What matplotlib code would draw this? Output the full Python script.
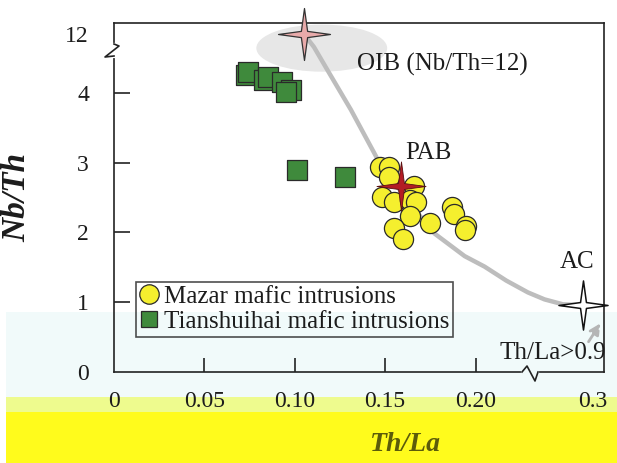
import numpy as np
import matplotlib.pyplot as plt
from matplotlib.patches import Rectangle, Ellipse
from matplotlib.lines import Line2D
from matplotlib.path import Path
from matplotlib.transforms import ScaledTranslation

plt.rcParams['font.family'] = ['Liberation Serif', 'DejaVu Serif']

# Mazar mafic intrusions (Th/La, Nb/Th)
mazar_thla = [0.147, 0.152, 0.152, 0.166, 0.148, 0.155, 0.164, 0.167,
              0.164, 0.155, 0.160, 0.175, 0.187, 0.188, 0.195, 0.194]
mazar_nbth = [2.93, 2.94, 2.80, 2.66, 2.51, 2.44, 2.47, 2.43,
              2.23, 2.07, 1.90, 2.14, 2.36, 2.26, 2.09, 2.04]

# Tianshuihai mafic intrusions
tsh_thla = [0.073, 0.074, 0.083, 0.085, 0.093, 0.098, 0.095, 0.101, 0.128]
tsh_nbth = [4.26, 4.30, 4.19, 4.23, 4.16, 4.04, 4.01, 2.89, 2.79]

# end members
oib = (0.105, 12.0)
pab = (0.159, 2.66)
ac = (0.280, 0.96)

# mixing curve OIB -> AC
curve_thla = [0.105, 0.1106, 0.118, 0.131, 0.146, 0.162, 0.177, 0.194,
              0.205, 0.217, 0.229, 0.244, 0.2612, 0.2754]
curve_nbth = [12.0, 6.34, 4.33, 3.76, 3.04, 2.47, 1.99, 1.66,
              1.51, 1.31, 1.14, 1.04, 0.97, 0.96]

xticks = [0, 0.05, 0.10, 0.15, 0.20, 0.30]
xticklabels = ['0', '0.05', '0.10', '0.15', '0.20', '0.3']
yticks = [0, 1, 2, 3, 4, 12]
yticklabels = ['0', '1', '2', '3', '4', '12']

W, H = 617, 463


# broken axes: linear up to the break, compressed above
def xfwd(x):
    x = np.asarray(x, dtype=float)
    return np.where(x <= 0.23, x, 0.23 + (x - 0.23) * 0.587)


def xinv(u):
    u = np.asarray(u, dtype=float)
    return np.where(u <= 0.23, u, 0.23 + (u - 0.23) / 0.587)


def yfwd(y):
    y = np.asarray(y, dtype=float)
    return np.where(y <= 4.6, y, 4.6 + (y - 4.6) * 0.0328)


def yinv(v):
    v = np.asarray(v, dtype=float)
    return np.where(v <= 4.6, v, 4.6 + (v - 4.6) / 0.0328)


def fx(px):
    return px / W


def fy(py):
    return 1 - py / H


fig = plt.figure(figsize=(6.17, 4.63), dpi=100)

# scan bands at the bottom of the picture
fig.add_artist(Rectangle((fx(6), fy(397)), 1, fy(312) - fy(397), transform=fig.transFigure,
                         color='#f1fafa', zorder=-5, lw=0))
fig.add_artist(Rectangle((fx(6), fy(412)), 1, fy(397) - fy(412), transform=fig.transFigure,
                         color='#eefb8e', zorder=-5, lw=0))
fig.add_artist(Rectangle((fx(6), 0), 1, fy(412), transform=fig.transFigure,
                         color='#fffb1c', zorder=-5, lw=0))

ax = fig.add_axes([fx(114), fy(372), fx(604) - fx(114), fy(23) - fy(372)])
ax.set_facecolor('none')
ax.set_xscale('function', functions=(xfwd, xinv))
ax.set_yscale('function', functions=(yfwd, yinv))
ax.set_xlim(0, 0.30)
ax.set_ylim(0, 16.8)

star = Path([(0, 1), (0.12, 0.12), (1, 0), (0.12, -0.12), (0, -1),
             (-0.12, -0.12), (-1, 0), (-0.12, 0.12), (0, 1)],
            [Path.MOVETO] + [Path.LINETO] * 7 + [Path.CLOSEPOLY])

# OIB field
ax.add_patch(Ellipse((0.424, 0.928), 0.267, 0.135, transform=ax.transAxes,
                     color='#e7e7e7', lw=0, zorder=1, clip_on=False))

ax.plot(curve_thla, curve_nbth, color='#bdbdbd', lw=3.2, solid_capstyle='round', zorder=2)

ax.scatter(tsh_thla, tsh_nbth, marker='s', s=210, c='#3f8a3c', edgecolors='#2a2a2a',
           linewidths=0.9, zorder=3)
ax.scatter(mazar_thla, mazar_nbth, marker='o', s=210, c='#f5ef2e', edgecolors='#2a2a2a',
           linewidths=0.9, zorder=4)

ax.scatter([oib[0]], [oib[1]], marker=star, s=1400, c='#e8aaaa', edgecolors='#333333',
           linewidths=0.9, zorder=5, clip_on=False)
ax.scatter([pab[0]], [pab[1]], marker=star, s=1250, c='#b31d24', edgecolors='#5a1010',
           linewidths=0.6, zorder=5)
ax.scatter([ac[0]], [ac[1]], marker=star, s=1250, c='white', edgecolors='#111111',
           linewidths=1.1, zorder=5, clip_on=False)

ax.annotate('', xy=(0.298, 0.73), xytext=(0.284, 0.40),
            arrowprops=dict(arrowstyle='-|>', color='#b5b5b5', lw=2, ls='--',
                            mutation_scale=16), zorder=4, annotation_clip=False)

tc = '#1c1c1c'
ax.text(0.496, 0.880, 'OIB (Nb/Th=12)', transform=ax.transAxes, fontsize=18,
        va='center', ha='left', color=tc)
ax.text(0.594, 0.628, 'PAB', transform=ax.transAxes, fontsize=18, va='center', color=tc)
ax.text(0.910, 0.315, 'AC', transform=ax.transAxes, fontsize=18, va='center', color=tc)
ax.text(0.786, 0.054, 'Th/La>0.9', transform=ax.transAxes, fontsize=18, va='center', color=tc)

for s in ax.spines.values():
    s.set_linewidth(1.2)
    s.set_color('#222222')

ax.set_xticks(xticks)
ax.set_xticklabels(xticklabels)
ax.set_yticks(yticks)
ax.set_yticklabels(yticklabels)
ax.minorticks_off()
ax.tick_params(axis='both', direction='in', width=1.2, color='#222222',
               labelsize=17, labelcolor=tc)
ax.tick_params(axis='y', length=11.5, pad=18)
ax.tick_params(axis='x', length=10, pad=14)
for t in (ax.yaxis.get_major_ticks()[0], ax.yaxis.get_major_ticks()[-1],
          ax.xaxis.get_major_ticks()[0], ax.xaxis.get_major_ticks()[-1]):
    t.tick1line.set_visible(False)

# keep the last x label inside the picture
last = ax.get_xticklabels()[-1]
last.set_transform(last.get_transform() + ScaledTranslation(-8 / 72, 0, fig.dpi_scale_trans))

ax.set_xlabel('Th/La', fontsize=20, fontweight='bold', style='italic', color='#5c5c0a')
ax.xaxis.set_label_coords(0.594, -0.172)
ax.set_ylabel('Nb/Th', fontsize=24, fontweight='bold', style='italic', color=tc)
ax.yaxis.set_label_coords(-0.166, 0.5)

# axis break marks
fig.add_artist(Line2D([fx(114), fx(114)], [fy(45), fy(56)], transform=fig.transFigure,
                      color='white', lw=3, zorder=10))
fig.add_artist(Line2D([fx(114), fx(119), fx(105), fx(114)], [fy(44), fy(46), fy(57), fy(56)],
                      transform=fig.transFigure, color='#222222', lw=1.2, zorder=11))
fig.add_artist(Line2D([fx(523), fx(537)], [fy(372), fy(372)], transform=fig.transFigure,
                      color='#f1fafa', lw=3, zorder=10))
fig.add_artist(Line2D([fx(522), fx(527), fx(535), fx(538)], [fy(372), fy(366), fy(381), fy(372)],
                      transform=fig.transFigure, color='#222222', lw=1.2, zorder=11))

handles = [Line2D([], [], marker='o', ls='none', ms=14, mfc='#f5ef2e', mec='#2a2a2a', mew=0.9),
           Line2D([], [], marker='s', ls='none', ms=11, mfc='#3f8a3c', mec='#2a2a2a', mew=0.9)]
leg = ax.legend(handles, ['Mazar mafic intrusions', 'Tianshuihai mafic intrusions'],
                loc='upper left', bbox_to_anchor=(0.045, 0.258), borderaxespad=0,
                fontsize=18, frameon=True, fancybox=False, edgecolor='#222222',
                facecolor='none', handlelength=0.7, handletextpad=0.25,
                labelspacing=0.1, borderpad=0.15)
leg.get_frame().set_linewidth(1.2)
for t in leg.get_texts():
    t.set_color(tc)

fig.savefig('out.png', dpi=100)
